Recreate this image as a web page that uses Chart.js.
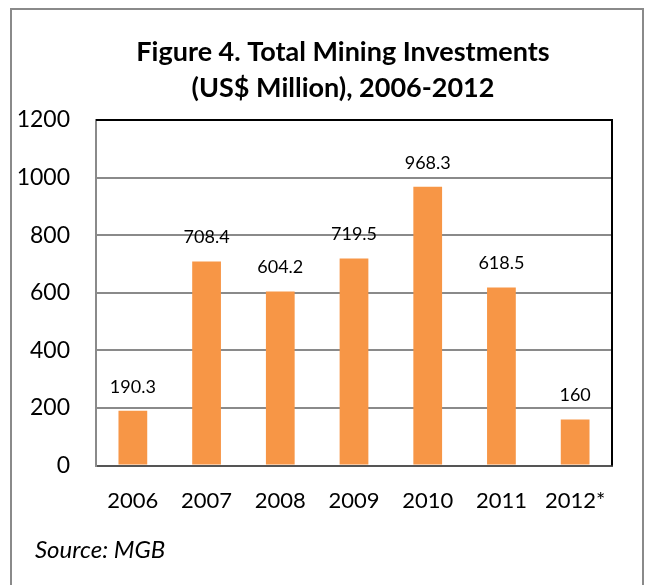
<!DOCTYPE html>
<html>
<head>
<meta charset="utf-8">
<script src="https://cdn.jsdelivr.net/npm/chart.js@4"></script>
<style>
  html, body { margin: 0; padding: 0; background: #fff; }
  #wrap { width: 645px; height: 585px; position: relative; }
</style>
</head>
<body>
<div id="wrap"><canvas id="c" width="645" height="585"></canvas></div>
<script>
const categories = ['2006', '2007', '2008', '2009', '2010', '2011', '2012*'];
const investments = [190.3, 708.4, 604.2, 719.5, 968.3, 618.5, 160];
const valueLabels = ['190.3', '708.4', '604.2', '719.5', '968.3', '618.5', '160'];
const titleLines = ['Figure 4. Total Mining Investments', '(US$ Million), 2006-2012'];
const sourceText = 'Source: MGB';

const FONT = 'Lato, "Open Sans", sans-serif';

const framePlugin = {
  id: 'frame',
  beforeDraw(chart) {
    const ctx = chart.ctx;
    ctx.save();
    ctx.fillStyle = '#fff';
    ctx.fillRect(0, 0, chart.width, chart.height);
    ctx.strokeStyle = '#8a8a8a';
    ctx.lineWidth = 2;
    ctx.strokeRect(11, 9, 632, 600);
    ctx.restore();
  },
  afterDraw(chart) {
    const a = chart.chartArea;
    const ctx = chart.ctx;
    ctx.save();
    ctx.strokeStyle = '#000';
    ctx.lineWidth = 2;
    ctx.beginPath();
    ctx.moveTo(a.left, a.top);
    ctx.lineTo(a.right, a.top);
    ctx.lineTo(a.right, a.bottom);
    ctx.stroke();
    // source note
    ctx.font = 'italic 24px ' + FONT;
    ctx.fillStyle = '#000';
    ctx.textAlign = 'left';
    ctx.textBaseline = 'middle';
    ctx.fillText(sourceText, 35, 550);
    ctx.restore();
  }
};

const labelPlugin = {
  id: 'valueLabels',
  afterDatasetsDraw(chart) {
    const ctx = chart.ctx;
    const meta = chart.getDatasetMeta(0);
    ctx.save();
    ctx.font = '18px ' + FONT;
    ctx.fillStyle = '#000';
    ctx.textAlign = 'center';
    ctx.textBaseline = 'middle';
    meta.data.forEach((bar, i) => {
      ctx.fillText(valueLabels[i], bar.x, bar.y - 24);
    });
    ctx.restore();
  }
};

new Chart(document.getElementById('c'), {
  type: 'bar',
  data: {
    labels: categories,
    datasets: [{
      data: investments,
      backgroundColor: '#F79646',
      borderWidth: 0,
      categoryPercentage: 1,
      barPercentage: 0.39
    }]
  },
  plugins: [framePlugin, labelPlugin],
  options: {
    responsive: false,
    animation: false,
    devicePixelRatio: 1,
    layout: { padding: { left: 74, right: 33, top: 0, bottom: 49 } },
    plugins: {
      legend: { display: false },
      tooltip: { enabled: false },
      title: {
        display: true,
        text: titleLines,
        color: '#000',
        font: { family: FONT, size: 27, weight: 'bold', lineHeight: 1.3333 },
        padding: { top: 34, bottom: 14 }
      }
    },
    scales: {
      x: {
        grid: { display: false, drawTicks: false },
        border: { display: true, color: '#555', width: 2 },
        ticks: { color: '#000', font: { family: FONT, size: 22 }, padding: 22, maxRotation: 0 }
      },
      y: {
        min: 0,
        max: 1200,
        afterFit(scale) {
          scale.width = 22;
          scale._computeLabelArea = () => undefined;
        },
        grid: { color: '#8a8a8a', lineWidth: 2, drawTicks: false },
        border: { display: true, color: '#8a8a8a', width: 2 },
        ticks: {
          stepSize: 200,
          color: '#000',
          font: { family: FONT, size: 23 },
          padding: 26,
          callback: (v) => String(v)
        }
      }
    }
  }
});
</script>
</body>
</html>
